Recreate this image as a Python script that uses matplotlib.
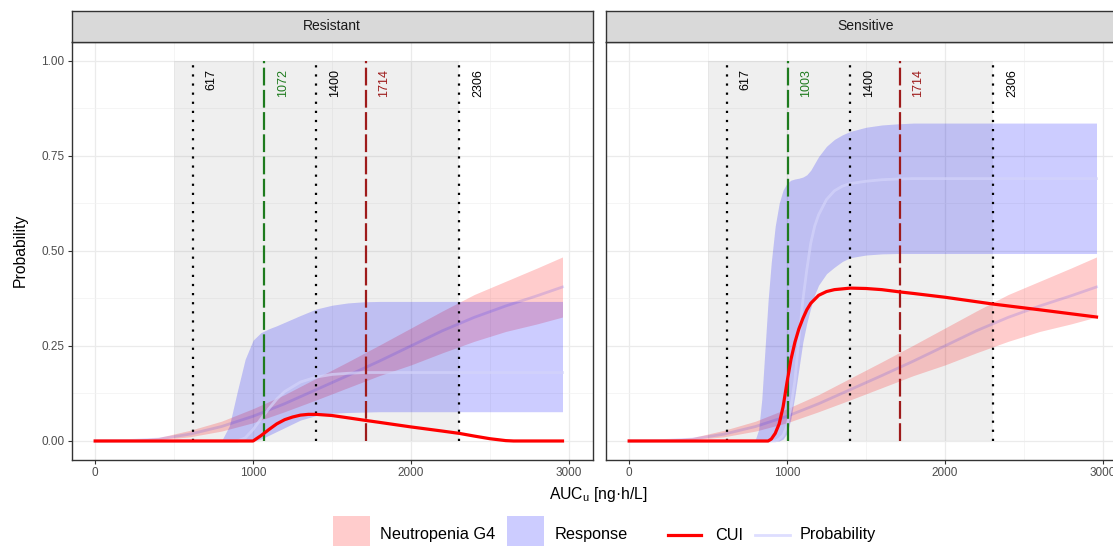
import matplotlib.pyplot as plt
from matplotlib.patches import Rectangle
from matplotlib.lines import Line2D

plt.rcParams['font.family'] = ['Liberation Sans', 'DejaVu Sans']
plt.rcParams['mathtext.fontset'] = 'custom'
plt.rcParams['mathtext.rm'] = 'Liberation Sans'

panels = ['Resistant', 'Sensitive']

# Neutropenia G4 probability (same on both panels)
neut_x = [0, 200, 400, 600, 800, 1000, 1200, 1400, 1600, 1800, 2000, 2200, 2400, 2600, 2800, 2960]
neut_med = [0.0, 0.001, 0.005, 0.018, 0.038, 0.065, 0.098, 0.135, 0.172, 0.21, 0.25, 0.29, 0.325, 0.355, 0.382, 0.405]
neut_lo = [0.0, 0.0005, 0.003, 0.011, 0.026, 0.048, 0.077, 0.108, 0.14, 0.172, 0.2, 0.232, 0.262, 0.288, 0.308, 0.326]
neut_hi = [0.0, 0.002, 0.009, 0.028, 0.052, 0.085, 0.122, 0.165, 0.208, 0.252, 0.297, 0.342, 0.385, 0.42, 0.455, 0.484]

# Response - Resistant
resp_r_x = [0, 800, 850, 900, 950, 1000, 1050, 1100, 1150, 1200, 1300, 1400, 1500, 1600, 1700, 1800, 2000, 2960]
resp_r_hi = [0, 0.0, 0.04, 0.13, 0.215, 0.265, 0.285, 0.295, 0.303, 0.312, 0.33, 0.347, 0.357, 0.363, 0.366, 0.367, 0.367, 0.367]
resp_r_med = [0, 0, 0, 0, 0.008, 0.03, 0.058, 0.085, 0.11, 0.13, 0.155, 0.168, 0.175, 0.178, 0.18, 0.18, 0.18, 0.18]
resp_r_lo = [0, 0, 0, 0, 0, 0.0, 0.005, 0.015, 0.025, 0.035, 0.055, 0.067, 0.073, 0.075, 0.076, 0.077, 0.077, 0.077]

# Response - Sensitive
resp_s_x = [0, 780, 800, 820, 840, 860, 880, 900, 925, 950, 975, 1000, 1025, 1050, 1075, 1100, 1125, 1150,
            1175, 1200, 1250, 1300, 1350, 1400, 1500, 1600, 1700, 1800, 2000, 2960]
resp_s_hi = [0, 0, 0.005, 0.03, 0.11, 0.24, 0.37, 0.47, 0.565, 0.625, 0.66, 0.678, 0.686, 0.689, 0.691, 0.694,
             0.7, 0.712, 0.73, 0.748, 0.775, 0.793, 0.805, 0.814, 0.825, 0.831, 0.834, 0.836, 0.836, 0.836]
resp_s_med = [0, 0, 0, 0, 0, 0, 0, 0, 0, 0.005, 0.015, 0.04, 0.09, 0.16, 0.27, 0.37, 0.45, 0.52,
              0.565, 0.595, 0.635, 0.658, 0.67, 0.677, 0.683, 0.687, 0.689, 0.69, 0.69, 0.69]
resp_s_lo = [0, 0, 0, 0, 0, 0, 0, 0, 0, 0, 0.005, 0.02, 0.06, 0.12, 0.19, 0.26, 0.31, 0.35,
             0.385, 0.41, 0.44, 0.457, 0.472, 0.482, 0.489, 0.492, 0.493, 0.493, 0.493, 0.493]

# CUI
cui_r_x = [0, 1000, 1050, 1100, 1150, 1200, 1250, 1300, 1350, 1400, 1500, 1600, 1714, 1800, 2000, 2200,
           2306, 2400, 2500, 2600, 2650, 2960]
cui_r = [0, 0, 0.014, 0.03, 0.045, 0.056, 0.063, 0.068, 0.07, 0.07, 0.067, 0.061, 0.054, 0.049, 0.037, 0.026,
         0.02, 0.013, 0.006, 0.001, 0, 0]
cui_s_x = [0, 880, 900, 925, 950, 975, 1000, 1025, 1050, 1075, 1100, 1125, 1150, 1200, 1250, 1300, 1400,
           1500, 1600, 1714, 1800, 2000, 2306, 2600, 2960]
cui_s = [0, 0, 0.005, 0.02, 0.045, 0.09, 0.155, 0.215, 0.26, 0.295, 0.322, 0.345, 0.362, 0.383, 0.393, 0.398,
         0.402, 0.401, 0.398, 0.392, 0.388, 0.378, 0.36, 0.345, 0.326]

# reference lines
vl_res = [617, 1072, 1400, 1714, 2306]
vl_sens = [617, 1003, 1400, 1714, 2306]
vl_kind = ['dot', 'green', 'dot', 'red', 'dot']
grey_x = [500, 2306]

resp = [(resp_r_x, resp_r_lo, resp_r_med, resp_r_hi), (resp_s_x, resp_s_lo, resp_s_med, resp_s_hi)]
cuis = [(cui_r_x, cui_r), (cui_s_x, cui_s)]
vls = [vl_res, vl_sens]

W, H = 1113, 546
fig = plt.figure(figsize=(W / 100, H / 100), dpi=100)


def box(x0, y0, x1, y1):
    return [x0 / W, 1 - y1 / H, (x1 - x0) / W, (y1 - y0) / H]


pink = '#FF0000'
blue = '#0000FF'
prob_col = '#D4D4FA'
dot_ls = (0, (1, 3.1))
dash_ls = (0, (8, 2))
styles = {'dot': ('black', dot_ls), 'green': ('#1E7B1E', dash_ls), 'red': ('#9E1B1B', dash_ls)}

lefts = [71.5, 605.5]
pw = 521
for i, name in enumerate(panels):
    xl = lefts[i]
    ax = fig.add_axes(box(xl, 41.7, xl + pw, 460))
    ax.set_xlim(-150, 3150)
    ax.set_ylim(-0.05, 1.05)
    ax.set_xticks([0, 1000, 2000, 3000])
    ax.set_xticks([500, 1500, 2500], minor=True)
    ax.set_yticks([0, 0.25, 0.5, 0.75, 1.0])
    ax.set_yticklabels(['0.00', '0.25', '0.50', '0.75', '1.00'])
    ax.set_yticks([0.125, 0.375, 0.625, 0.875], minor=True)
    ax.grid(which='major', color='#EBEBEB', lw=0.9, zorder=0)
    ax.grid(which='minor', color='#F2F2F2', lw=0.5, zorder=0)
    ax.set_axisbelow(True)
    ax.tick_params(which='minor', length=0)
    ax.tick_params(which='major', length=3, width=0.8, color='#333333', labelsize=8.5,
                   labelcolor='#4D4D4D', pad=2)
    if i == 1:
        ax.tick_params(axis='y', left=False, labelleft=False)
    for s in ax.spines.values():
        s.set_color('#333333')
        s.set_linewidth(1.0)

    ax.fill_between(grey_x, 0, 1, color='grey', alpha=0.12, lw=0, zorder=1)

    ax.fill_between(neut_x, neut_lo, neut_hi, color=pink, alpha=0.2, lw=0, zorder=2)
    rx, rlo, rmed, rhi = resp[i]
    ax.fill_between(rx, rlo, rhi, color=blue, alpha=0.2, lw=0, zorder=2)
    ax.plot(neut_x, neut_med, color=blue, alpha=0.13, lw=2, zorder=3)
    ax.plot(rx, rmed, color=prob_col, alpha=0.7, lw=2, zorder=3)

    for xv, k in zip(vls[i], vl_kind):
        c, ls = styles[k]
        ax.plot([xv, xv], [0, 1], color=c, ls=ls, lw=1.6, zorder=4)
        ax.text(xv + 118, 0.978, str(xv), rotation=90, ha='center', va='top',
                fontsize=9, color=c, zorder=5)

    cx, cy = cuis[i]
    ax.plot(cx, cy, color='#FF0000', lw=2.3, zorder=6)

    sax = fig.add_axes(box(xl, 11, xl + pw, 41.7))
    sax.set_facecolor('#D9D9D9')
    sax.set_xticks([])
    sax.set_yticks([])
    for s in sax.spines.values():
        s.set_color('#333333')
        s.set_linewidth(1.0)
    sax.text(0.5, 0.5, name, ha='center', va='center', fontsize=10, color='#1A1A1A',
             transform=sax.transAxes)

fig.text(598 / W, 1 - 495 / H, 'AUC$_{\\mathregular{u}}$ [ng·h/L]', ha='center', va='center', fontsize=11.3)
fig.text(20 / W, 1 - 250 / H, 'Probability', rotation=90, ha='center', va='center', fontsize=11.3)

# legend (drawn by hand, ggplot style, bottom)
ly = 535
fig.patches.append(Rectangle((333 / W, 1 - 550 / H), 37 / W, 34 / H, transform=fig.transFigure,
                             facecolor=pink, alpha=0.2, lw=0))
fig.text(380 / W, 1 - ly / H, 'Neutropenia G4', va='center', fontsize=11.7)
fig.patches.append(Rectangle((507 / W, 1 - 550 / H), 37 / W, 34 / H, transform=fig.transFigure,
                             facecolor=blue, alpha=0.2, lw=0))
fig.text(555 / W, 1 - ly / H, 'Response', va='center', fontsize=11.7)
fig.lines.append(Line2D([668 / W, 701 / W], [1 - ly / H] * 2, transform=fig.transFigure,
                        color='#FF0000', lw=2.3))
fig.text(715 / W, 1 - ly / H, 'CUI', va='center', fontsize=11.7)
fig.lines.append(Line2D([755 / W, 790 / W], [1 - ly / H] * 2, transform=fig.transFigure,
                        color=blue, alpha=0.13, lw=2))
fig.text(800 / W, 1 - ly / H, 'Probability', va='center', fontsize=11.7)

fig.savefig('out.png', dpi=100)
